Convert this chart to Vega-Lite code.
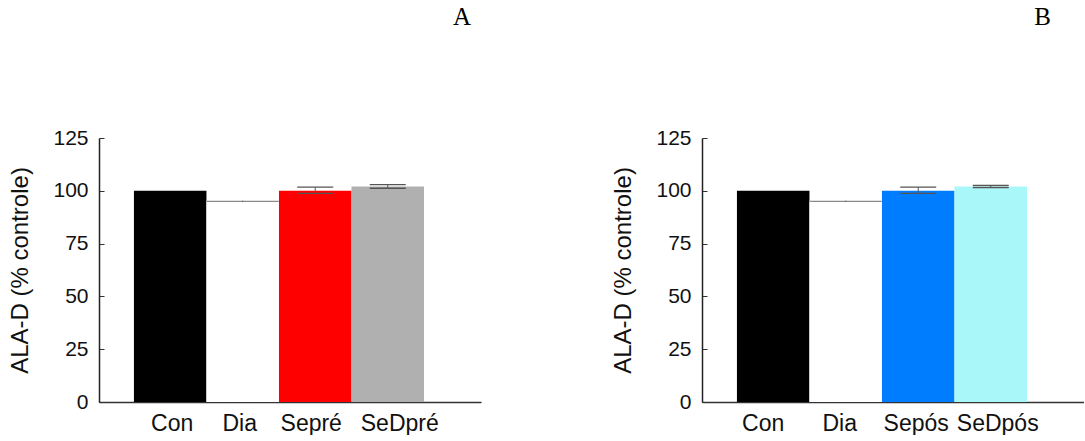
{
  "$schema": "https://vega.github.io/schema/vega-lite/v6.json",
  "background": "white",
  "padding": {"left": 8, "top": 5, "right": 0, "bottom": 0},
  "datasets": {
    "bars": [
      {"panel": "A", "group": "Con", "value": 100, "lo": null, "hi": null},
      {"panel": "A", "group": "Dia", "value": 95, "lo": 94.7, "hi": 95.3},
      {"panel": "A", "group": "Sepré", "value": 100, "lo": 98.8, "hi": 101.7},
      {"panel": "A", "group": "SeDpré", "value": 102, "lo": 101.2, "hi": 102.9},
      {"panel": "B", "group": "Con", "value": 100, "lo": null, "hi": null},
      {"panel": "B", "group": "Dia", "value": 95, "lo": 94.7, "hi": 95.3},
      {"panel": "B", "group": "Sepós", "value": 100, "lo": 98.8, "hi": 101.7},
      {"panel": "B", "group": "SeDpós", "value": 102, "lo": 101.5, "hi": 102.5}
    ]
  },
  "config": {
    "view": {"stroke": null},
    "concat": {"spacing": 130},
    "axis": {
      "labelFont": "Liberation Sans",
      "titleFont": "Liberation Sans",
      "labelColor": "#111",
      "titleColor": "#111",
      "grid": false
    }
  },
  "hconcat": [
    {
      "width": 382,
      "height": 264,
      "title": {"text": "A", "anchor": "end", "frame": "group", "dx": -10, "offset": 97, "font": "Liberation Serif", "fontSize": 25, "fontWeight": "normal", "color": "black"},
      "data": {"name": "bars"},
      "transform": [{"filter": "datum.panel == 'A'"}],
      "encoding": {
        "x": {
          "field": "group", "type": "nominal",
          "sort": ["Con", "Dia", "Sepré", "SeDpré"],
          "scale": {"paddingInner": 0, "paddingOuter": 0.634, "align": 0.38},
          "axis": {
            "title": null, "labelAngle": 0, "labelFontSize": 23, "ticks": false, "labelPadding": 10, "domainColor": "#333", "domainWidth": 1.5,
            "labelOffset": {"condition": [
              {"test": "datum.value == 'Con'", "value": 2},
              {"test": "datum.value == 'Dia'", "value": -3},
              {"test": "datum.value == 'Sepré'", "value": -4},
              {"test": "datum.value == 'SeDpré'", "value": 12}
            ], "value": 0}
          }
        }
      },
      "layer": [
        {
          "mark": {"type": "bar"},
          "encoding": {
            "y": {
              "field": "value", "type": "quantitative",
              "scale": {"domain": [0, 125], "nice": false},
              "axis": {"title": "ALA-D (% controle)", "values": [0, 25, 50, 75, 100, 125], "labelFontSize": 21, "titleFontSize": 24, "titleFontWeight": "normal", "tickSize": -5, "tickColor": "#333", "labelPadding": 16, "titlePadding": 20, "domainColor": "#222", "domainWidth": 1.5}
            },
            "color": {
              "field": "group", "type": "nominal", "legend": null,
              "scale": {"domain": ["Con", "Dia", "Sepré", "SeDpré", "Sepós", "SeDpós"], "range": ["#000000", "#ffffff", "#ff0000", "#b0b0b0", "#007dff", "#aaf7f9"]}
            }
          }
        },
        {
          "transform": [{"filter": "datum.group == 'Dia'"}],
          "mark": {"type": "tick", "color": "#8a8a8a", "thickness": 1.3, "size": 72, "opacity": 1},
          "encoding": {"y": {"field": "value", "type": "quantitative"}}
        },
        {
          "transform": [{"filter": "datum.lo != null"}],
          "mark": {"type": "rule", "color": "#555", "strokeWidth": 1},
          "encoding": {"y": {"field": "lo", "type": "quantitative"}, "y2": {"field": "hi"}}
        },
        {
          "transform": [{"filter": "datum.lo != null && datum.group != 'Dia'"}],
          "mark": {"type": "tick", "color": "#555", "thickness": 1.3, "size": 36, "opacity": 1},
          "encoding": {"y": {"field": "lo", "type": "quantitative"}}
        },
        {
          "transform": [{"filter": "datum.lo != null && datum.group != 'Dia'"}],
          "mark": {"type": "tick", "color": "#555", "thickness": 1.3, "size": 36, "opacity": 1},
          "encoding": {"y": {"field": "hi", "type": "quantitative"}}
        }
      ]
    },
    {
      "width": 382,
      "height": 264,
      "title": {"text": "B", "anchor": "end", "frame": "group", "dx": -33, "offset": 97, "font": "Liberation Serif", "fontSize": 25, "fontWeight": "normal", "color": "black"},
      "data": {"name": "bars"},
      "transform": [{"filter": "datum.panel == 'B'"}],
      "encoding": {
        "x": {
          "field": "group", "type": "nominal",
          "sort": ["Con", "Dia", "Sepós", "SeDpós"],
          "scale": {"paddingInner": 0, "paddingOuter": 0.634, "align": 0.38},
          "axis": {
            "title": null, "labelAngle": 0, "labelFontSize": 23, "ticks": false, "labelPadding": 10, "domainColor": "#333", "domainWidth": 1.5,
            "labelOffset": {"condition": [
              {"test": "datum.value == 'Con'", "value": -10},
              {"test": "datum.value == 'Dia'", "value": -6},
              {"test": "datum.value == 'Sepós'", "value": -2},
              {"test": "datum.value == 'SeDpós'", "value": 7}
            ], "value": 0}
          }
        }
      },
      "layer": [
        {
          "mark": {"type": "bar"},
          "encoding": {
            "y": {
              "field": "value", "type": "quantitative",
              "scale": {"domain": [0, 125], "nice": false},
              "axis": {"title": "ALA-D (% controle)", "values": [0, 25, 50, 75, 100, 125], "labelFontSize": 21, "titleFontSize": 24, "titleFontWeight": "normal", "tickSize": -5, "tickColor": "#333", "labelPadding": 16, "titlePadding": 20, "domainColor": "#222", "domainWidth": 1.5}
            },
            "color": {
              "field": "group", "type": "nominal", "legend": null,
              "scale": {"domain": ["Con", "Dia", "Sepré", "SeDpré", "Sepós", "SeDpós"], "range": ["#000000", "#ffffff", "#ff0000", "#b0b0b0", "#007dff", "#aaf7f9"]}
            }
          }
        },
        {
          "transform": [{"filter": "datum.group == 'Dia'"}],
          "mark": {"type": "tick", "color": "#8a8a8a", "thickness": 1.3, "size": 72, "opacity": 1},
          "encoding": {"y": {"field": "value", "type": "quantitative"}}
        },
        {
          "transform": [{"filter": "datum.lo != null"}],
          "mark": {"type": "rule", "color": "#555", "strokeWidth": 1},
          "encoding": {"y": {"field": "lo", "type": "quantitative"}, "y2": {"field": "hi"}}
        },
        {
          "transform": [{"filter": "datum.lo != null && datum.group != 'Dia'"}],
          "mark": {"type": "tick", "color": "#555", "thickness": 1.3, "size": 36, "opacity": 1},
          "encoding": {"y": {"field": "lo", "type": "quantitative"}}
        },
        {
          "transform": [{"filter": "datum.lo != null && datum.group != 'Dia'"}],
          "mark": {"type": "tick", "color": "#555", "thickness": 1.3, "size": 36, "opacity": 1},
          "encoding": {"y": {"field": "hi", "type": "quantitative"}}
        }
      ]
    }
  ]
}
